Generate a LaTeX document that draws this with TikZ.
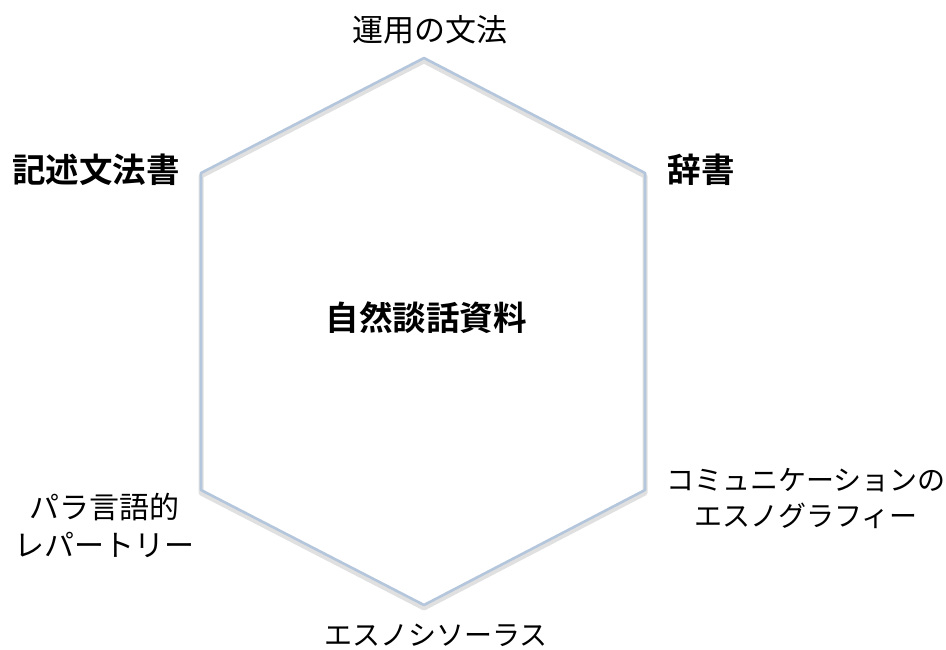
\documentclass[tikz,border=0pt]{standalone}
\usepackage{fontspec}
\newfontfamily\cjk{Noto Sans CJK JP}
\newfontfamily\cjkb{Noto Sans CJK JP Bold}
\begin{document}
\begin{tikzpicture}[x=1pt,y=-1pt,
  lab/.style={font=\cjk\fontsize{28}{36}\selectfont, inner sep=0pt, align=center},
  labb/.style={font=\cjkb\fontsize{33.5}{38}\selectfont, inner sep=0pt, align=center},
  hexline/.style={draw=hexblue, line width=2.6pt, line join=round},
  hexshadow/.style={draw=black!12, line width=5pt, line join=round}]
\definecolor{hexblue}{HTML}{B4C6DC}
\useasboundingbox (0,0) rectangle (946,650);
\coordinate (t) at (424,58);
\coordinate (ur) at (645,173);
\coordinate (lr) at (645,490);
\coordinate (b) at (424,605);
\coordinate (ll) at (201,490);
\coordinate (ul) at (201,173);
\draw[hexshadow] ([yshift=-3pt]t) -- ([yshift=-3pt]ur) -- ([yshift=-3pt]lr) -- ([yshift=-3pt]b) -- ([yshift=-3pt]ll) -- ([yshift=-3pt]ul) -- cycle;
\draw[hexline] (t) -- (ur) -- (lr) -- (b) -- (ll) -- (ul) -- cycle;
\node[lab, font=\cjk\fontsize{31}{36}\selectfont] (n1) at (430,30) {運用の文法};
\node[labb] (n2) at (96,170) {記述文法書};
\node[labb] (n3) at (701,170) {辞書};
\node[labb] (n4) at (426,318) {自然談話資料};
\node[lab, font=\cjk\fontsize{30}{38}\selectfont] (n5) at (105,525) {パラ言語的\\レパートリー};
\node[lab] (n6) at (806,499) {コミュニケーションの\\エスノグラフィー};
\node[lab] (n7) at (436,635) {エスノシソーラス};
\end{tikzpicture}
\end{document}
